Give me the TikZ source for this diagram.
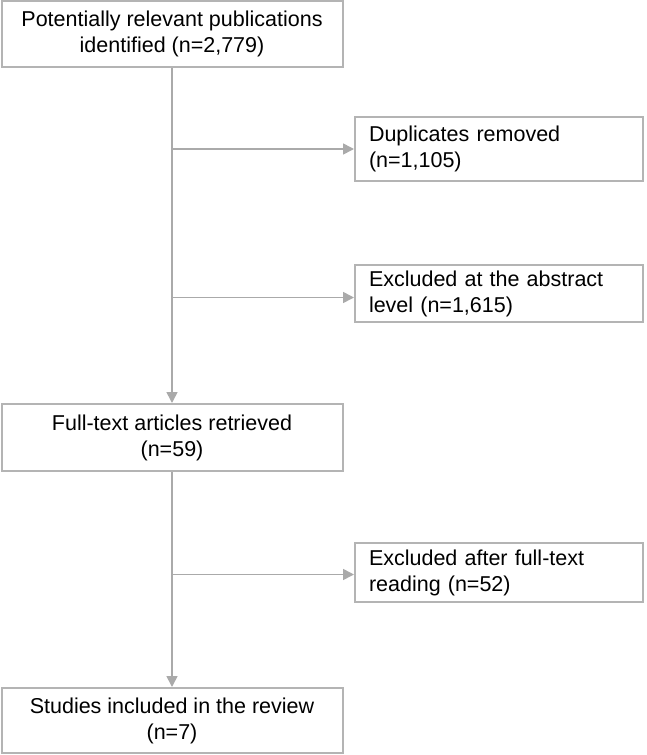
\documentclass[tikz,border=0pt]{standalone}
\usepackage{fontspec}
\setmainfont{Liberation Sans}
\usepackage{tikz}
\usetikzlibrary{positioning, arrows.meta}
\definecolor{BoxGray}{RGB}{180, 180, 180}
\definecolor{LineGray}{RGB}{170, 170, 170}

\begin{document}
\begin{tikzpicture}[x=1pt, y=-1pt,
    mainbox/.style={draw=BoxGray, line width=2pt, minimum width=341pt, align=center,
                    font=\fontsize{21.5}{26}\selectfont, inner sep=0pt},
    sidebox/.style={draw=BoxGray, line width=2pt, minimum width=288pt, text width=260pt, align=left,
                    font=\fontsize{21.5}{26}\selectfont, inner xsep=14pt, inner ysep=0pt},
    arr/.style={draw=LineGray, line width=1.6pt, -{Triangle[length=11pt, width=11pt]}},
    branch/.style={draw=LineGray, line width=1.6pt}]
    \useasboundingbox (0,0) rectangle (646,755);

    % Main column
    \node[mainbox, minimum height=66pt] (pub) at (172,34) {Potentially relevant publications\\identified (n=2,779)};
    \node[mainbox, minimum height=67pt] (full) at (172,437.5) {Full-text articles retrieved\\(n=59)};
    \node[mainbox, minimum height=65pt] (incl) at (172,720.5) {Studies included in the review\\(n=7)};

    % Excluded records
    \node[sidebox, minimum height=64pt] (dup) at (499,149) {Duplicates removed\\(n=1,105)};
    \node[sidebox, minimum height=57pt] (abs) at (499,293.5) {Excluded at the abstract\\level (n=1,615)};
    \node[sidebox, minimum height=59pt] (read) at (499,572.5) {Excluded after full-text\\reading (n=52)};

    % Connectors
    \draw[arr] (pub.south) -- (full.north);
    \draw[arr] (full.south) -- (incl.north);
    \draw[arr] (dup.west -| pub.south) -- (dup.west);
    \draw[arr] ([yshift=-4pt]abs.west -| pub.south) -- ([yshift=-4pt]abs.west);
    \draw[arr] ([yshift=-2pt]read.west -| full.south) -- ([yshift=-2pt]read.west);
\end{tikzpicture}
\end{document}
